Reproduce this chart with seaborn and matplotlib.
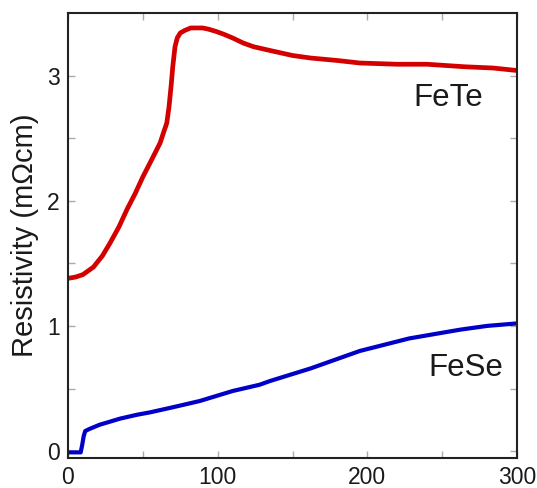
import numpy as np
import pandas as pd
import matplotlib
matplotlib.use("Agg")
import matplotlib.pyplot as plt
import seaborn as sns

# FeTe resistivity
fete_T = [0, 5, 10, 17, 23, 28, 34, 39.4, 45, 50, 56, 61.5, 64, 66, 67.5, 69, 70, 71.5,
          73, 75, 78, 82, 90, 94, 99.5, 104, 110, 117, 124, 135, 150, 162, 180, 195,
          220, 240, 265, 284, 300]
fete_rho = [1.38, 1.39, 1.41, 1.47, 1.56, 1.66, 1.79, 1.93, 2.06, 2.19, 2.33, 2.46, 2.55,
            2.62, 2.75, 2.93, 3.07, 3.23, 3.30, 3.34, 3.36, 3.38, 3.38, 3.37, 3.35, 3.33,
            3.30, 3.26, 3.23, 3.20, 3.16, 3.14, 3.12, 3.10, 3.09, 3.09, 3.07, 3.06, 3.04]

# FeSe resistivity
fese_T = [0, 8.5, 9.5, 10.5, 11.5, 14, 17, 21, 28, 35, 46, 55, 70, 88, 110, 128, 135,
          162, 195, 228, 262, 280, 300]
fese_rho = [-0.01, -0.01, 0.05, 0.12, 0.16, 0.175, 0.19, 0.21, 0.235, 0.26, 0.29, 0.31,
            0.35, 0.40, 0.48, 0.53, 0.56, 0.66, 0.80, 0.90, 0.97, 1.00, 1.02]

sns.set_style("ticks")
plt.rcParams['font.family'] = ['Liberation Sans', 'DejaVu Sans']

fig = plt.figure(figsize=(5.37, 4.88), dpi=100)
ax = fig.add_axes([0.1266, 0.0615, 0.8362, 0.912])

sns.lineplot(x=fete_T, y=fete_rho, ax=ax, color='#d40000', lw=3.4, sort=False)
sns.lineplot(x=fese_T, y=fese_rho, ax=ax, color='#0000c8', lw=3.0, sort=False)

ax.set_xlim(0, 300)
ax.set_ylim(-0.055, 3.5)
ax.set_xticks([0, 100, 200, 300])
ax.set_xticks([50, 150, 250], minor=True)
ax.set_yticks([0, 1, 2, 3])
ax.set_yticks([0.5, 1.5, 2.5], minor=True)

ax.tick_params(which='both', direction='in', top=True, right=True,
               length=5, width=1, color='#aaaaaa', labelsize=16.5,
               labelcolor='#1a1a1a', pad=6)
ax.tick_params(which='minor', length=5)

for sp in ax.spines.values():
    sp.set_color('#222222')
    sp.set_linewidth(1.5)

ax.set_ylabel('Resistivity (mΩcm)', fontsize=21, color='#1a1a1a', labelpad=6)
ax.set_xlabel('')

ax.text(230.5, 2.82, 'FeTe', fontsize=22.5, color='#1a1a1a', ha='left', va='center')
ax.text(240.5, 0.66, 'FeSe', fontsize=22.5, color='#1a1a1a', ha='left', va='center')

fig.savefig('out.png', dpi=100)
